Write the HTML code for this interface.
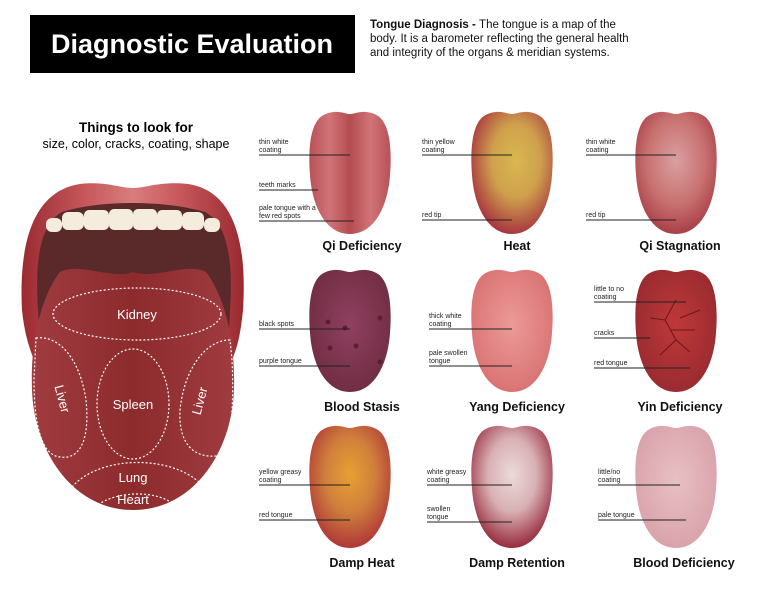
<!DOCTYPE html>
<html><head><meta charset="utf-8"><style>
body{margin:0;background:#fff;width:768px;height:591px;overflow:hidden;font-family:"Liberation Sans",sans-serif}
</style></head><body>
<svg width="768" height="591" viewBox="0 0 768 591" xmlns="http://www.w3.org/2000/svg" font-family="Liberation Sans, sans-serif">
<defs>
<path id="tg" d="M12,6 C25,-2 35,4 40,4 C45,4 55,-2 68,6 C80,14 82,40 80,65 C78,95 65,124 40,124 C15,124 2,95 0,65 C-2,40 0,14 12,6Z"/>
<linearGradient id="g1" x1="0" x2="1"><stop offset="0" stop-color="#b85058"/><stop offset=".25" stop-color="#d07478"/><stop offset=".5" stop-color="#b44c50"/><stop offset=".75" stop-color="#d07478"/><stop offset="1" stop-color="#b85058"/></linearGradient>
<radialGradient id="g2" cx=".55" cy=".4" r=".6"><stop offset="0" stop-color="#d8b850"/><stop offset=".5" stop-color="#cfa04c"/><stop offset="1" stop-color="#a83840"/></radialGradient>
<radialGradient id="g3" cx=".5" cy=".4" r=".6"><stop offset="0" stop-color="#d9a0a0"/><stop offset=".6" stop-color="#c87070"/><stop offset="1" stop-color="#a84048"/></radialGradient>
<radialGradient id="g4" cx=".5" cy=".45" r=".6"><stop offset="0" stop-color="#904060"/><stop offset="1" stop-color="#6e2c40"/></radialGradient>
<radialGradient id="g5" cx=".5" cy=".45" r=".6"><stop offset="0" stop-color="#ec9a98"/><stop offset="1" stop-color="#d87070"/></radialGradient>
<radialGradient id="g6" cx=".5" cy=".45" r=".6"><stop offset="0" stop-color="#c03838"/><stop offset="1" stop-color="#962a30"/></radialGradient>
<radialGradient id="g7" cx=".5" cy=".4" r=".6"><stop offset="0" stop-color="#e8a030"/><stop offset=".5" stop-color="#d0803c"/><stop offset="1" stop-color="#b03838"/></radialGradient>
<radialGradient id="g8" cx=".5" cy=".4" r=".6"><stop offset="0" stop-color="#ecdada"/><stop offset=".5" stop-color="#d8b0b4"/><stop offset="1" stop-color="#982c3c"/></radialGradient>
<radialGradient id="g9" cx=".5" cy=".45" r=".6"><stop offset="0" stop-color="#e8c0c4"/><stop offset="1" stop-color="#d8a0a8"/></radialGradient>
<linearGradient id="lip" x1="0" x2="1"><stop offset="0" stop-color="#9a2a30"/><stop offset=".3" stop-color="#c85a5e"/><stop offset=".5" stop-color="#d87c7c"/><stop offset=".7" stop-color="#c85a5e"/><stop offset="1" stop-color="#9a2a30"/></linearGradient>
<linearGradient id="bt" x1="0" x2="1"><stop offset="0" stop-color="#a03c40"/><stop offset=".5" stop-color="#8c2a2c"/><stop offset="1" stop-color="#a03c40"/></linearGradient>
</defs>
<rect x="30" y="15" width="325" height="58" fill="#000"/>
<text x="192" y="53" fill="#fff" font-size="27" font-weight="bold" text-anchor="middle">Diagnostic Evaluation</text>
<text font-size="11.5" fill="#111"><tspan x="370" y="28" font-weight="bold">Tongue Diagnosis - </tspan><tspan>The tongue is a map of the</tspan><tspan x="370" y="42">body. It is a barometer reflecting the general health</tspan><tspan x="370" y="56">and integrity of the organs &amp; meridian systems.</tspan></text>
<text x="136" y="132" font-size="13.5" font-weight="bold" text-anchor="middle">Things to look for</text>
<text x="136" y="148" font-size="12.5" text-anchor="middle">size, color, cracks, coating, shape</text>
<!-- big mouth -->
<path d="M22,310 C18,230 40,190 80,184 C105,181 120,188 133,188 C146,188 160,181 188,184 C228,190 248,230 243,310 C240,340 236,350 232,360 L34,360 C28,345 24,330 22,310Z" fill="url(#lip)"/>
<path d="M38,310 C34,250 44,222 62,212 C100,200 165,200 205,212 C224,222 234,250 230,310 L228,350 L40,350Z" fill="#5a2a2a"/>
<g fill="#f4ecdc">
<rect x="46" y="218" width="16" height="14" rx="6"/><rect x="62" y="212" width="22" height="18" rx="6"/><rect x="84" y="210" width="25" height="20" rx="5"/><rect x="109" y="209" width="24" height="21" rx="5"/><rect x="133" y="209" width="24" height="21" rx="5"/><rect x="157" y="210" width="25" height="20" rx="5"/><rect x="182" y="212" width="22" height="18" rx="6"/><rect x="204" y="218" width="16" height="14" rx="6"/>
</g>
<path d="M60,272 C80,262 112,280 133,272 C154,280 186,262 206,272 C220,290 236,330 234,390 C232,450 195,510 133,510 C72,510 34,450 32,390 C30,330 46,290 60,272Z" fill="url(#bt)"/>
<g fill="none" stroke="#fff" stroke-width="1.2" stroke-dasharray="2,2">
<ellipse cx="137" cy="314" rx="84" ry="26"/>
<ellipse cx="133" cy="404" rx="36" ry="55"/>
<path d="M36,338 C60,335 80,360 86,400 C90,440 80,460 60,457 C40,455 34,420 34,380Z"/>
<path d="M230,340 C205,340 184,370 180,410 C178,450 200,460 222,455 C232,440 234,400 232,360Z"/>
<path d="M72,487 C100,455 170,455 200,483"/>
<path d="M92,510 C110,490 160,488 178,508"/>
</g>
<g fill="#fff" font-size="13" text-anchor="middle">
<text x="137" y="319">Kidney</text>
<text x="133" y="409">Spleen</text>
<text x="133" y="482">Lung</text>
<text x="133" y="504">Heart</text>
<text transform="translate(58,400) rotate(75)" text-anchor="middle">Liver</text>
<text transform="translate(204,402) rotate(-75)" text-anchor="middle">Liver</text>
</g>
<!-- small tongues -->
<use href="#tg" transform="translate(310,110)" fill="url(#g1)"/>
<use href="#tg" transform="translate(472,110)" fill="url(#g2)"/>
<use href="#tg" transform="translate(636,110)" fill="url(#g3)"/>
<use href="#tg" transform="translate(310,268)" fill="url(#g4)"/>
<use href="#tg" transform="translate(472,268)" fill="url(#g5)"/>
<use href="#tg" transform="translate(636,268)" fill="url(#g6)"/>
<use href="#tg" transform="translate(310,424)" fill="url(#g7)"/>
<use href="#tg" transform="translate(472,424)" fill="url(#g8)"/>
<use href="#tg" transform="translate(636,424)" fill="url(#g9)"/>
<g fill="#5a2030"><circle cx="328" cy="322" r="2.5"/><circle cx="345" cy="328" r="2.5"/><circle cx="380" cy="318" r="2.5"/><circle cx="330" cy="348" r="2.5"/><circle cx="356" cy="346" r="2.5"/><circle cx="380" cy="362" r="2.5"/></g>
<g stroke="#6a1818" stroke-width="1" fill="none"><path d="M676,300 L665,320 L650,318 M665,320 L676,340 L690,352 M676,340 L660,355 M680,318 L700,310 M670,330 L695,330"/></g>
<g stroke="#222" stroke-width="1">
<line x1="259" y1="155" x2="350" y2="155"/><line x1="259" y1="190" x2="318" y2="190"/><line x1="259" y1="221" x2="354" y2="221"/>
<line x1="422" y1="155" x2="512" y2="155"/><line x1="422" y1="220" x2="512" y2="220"/>
<line x1="586" y1="155" x2="676" y2="155"/><line x1="586" y1="220" x2="676" y2="220"/>
<line x1="259" y1="329" x2="350" y2="329"/><line x1="259" y1="366" x2="350" y2="366"/>
<line x1="429" y1="329" x2="512" y2="329"/><line x1="429" y1="366" x2="512" y2="366"/>
<line x1="594" y1="302" x2="686" y2="302"/><line x1="594" y1="338" x2="650" y2="338"/><line x1="594" y1="368" x2="690" y2="368"/>
<line x1="259" y1="485" x2="350" y2="485"/><line x1="259" y1="520" x2="350" y2="520"/>
<line x1="427" y1="485" x2="512" y2="485"/><line x1="427" y1="522" x2="512" y2="522"/>
<line x1="598" y1="485" x2="680" y2="485"/><line x1="598" y1="520" x2="686" y2="520"/>
</g>
<g font-size="7" fill="#222">
<text x="259" y="144">thin white</text><text x="259" y="152">coating</text>
<text x="259" y="187">teeth marks</text>
<text x="259" y="210">pale tongue with a</text><text x="259" y="218">few red spots</text>
<text x="422" y="144">thin yellow</text><text x="422" y="152">coating</text>
<text x="422" y="217">red tip</text>
<text x="586" y="144">thin white</text><text x="586" y="152">coating</text>
<text x="586" y="217">red tip</text>
<text x="259" y="326">black spots</text>
<text x="259" y="363">purple tongue</text>
<text x="429" y="318">thick white</text><text x="429" y="326">coating</text>
<text x="429" y="355">pale swollen</text><text x="429" y="363">tongue</text>
<text x="594" y="291">little to no</text><text x="594" y="299">coating</text>
<text x="594" y="335">cracks</text>
<text x="594" y="365">red tongue</text>
<text x="259" y="474">yellow greasy</text><text x="259" y="482">coating</text>
<text x="259" y="517">red tongue</text>
<text x="427" y="474">white greasy</text><text x="427" y="482">coating</text>
<text x="427" y="511">swollen</text><text x="427" y="519">tongue</text>
<text x="598" y="474">little/no</text><text x="598" y="482">coating</text>
<text x="598" y="517">pale tongue</text>
</g>
<g font-size="12.5" font-weight="bold" text-anchor="middle" fill="#111">
<text x="362" y="250">Qi Deficiency</text><text x="517" y="250">Heat</text><text x="680" y="250">Qi Stagnation</text>
<text x="362" y="411">Blood Stasis</text><text x="517" y="411">Yang Deficiency</text><text x="680" y="411">Yin Deficiency</text>
<text x="362" y="567">Damp Heat</text><text x="517" y="567">Damp Retention</text><text x="684" y="567">Blood Deficiency</text>
</g>
</svg>
</body></html>
